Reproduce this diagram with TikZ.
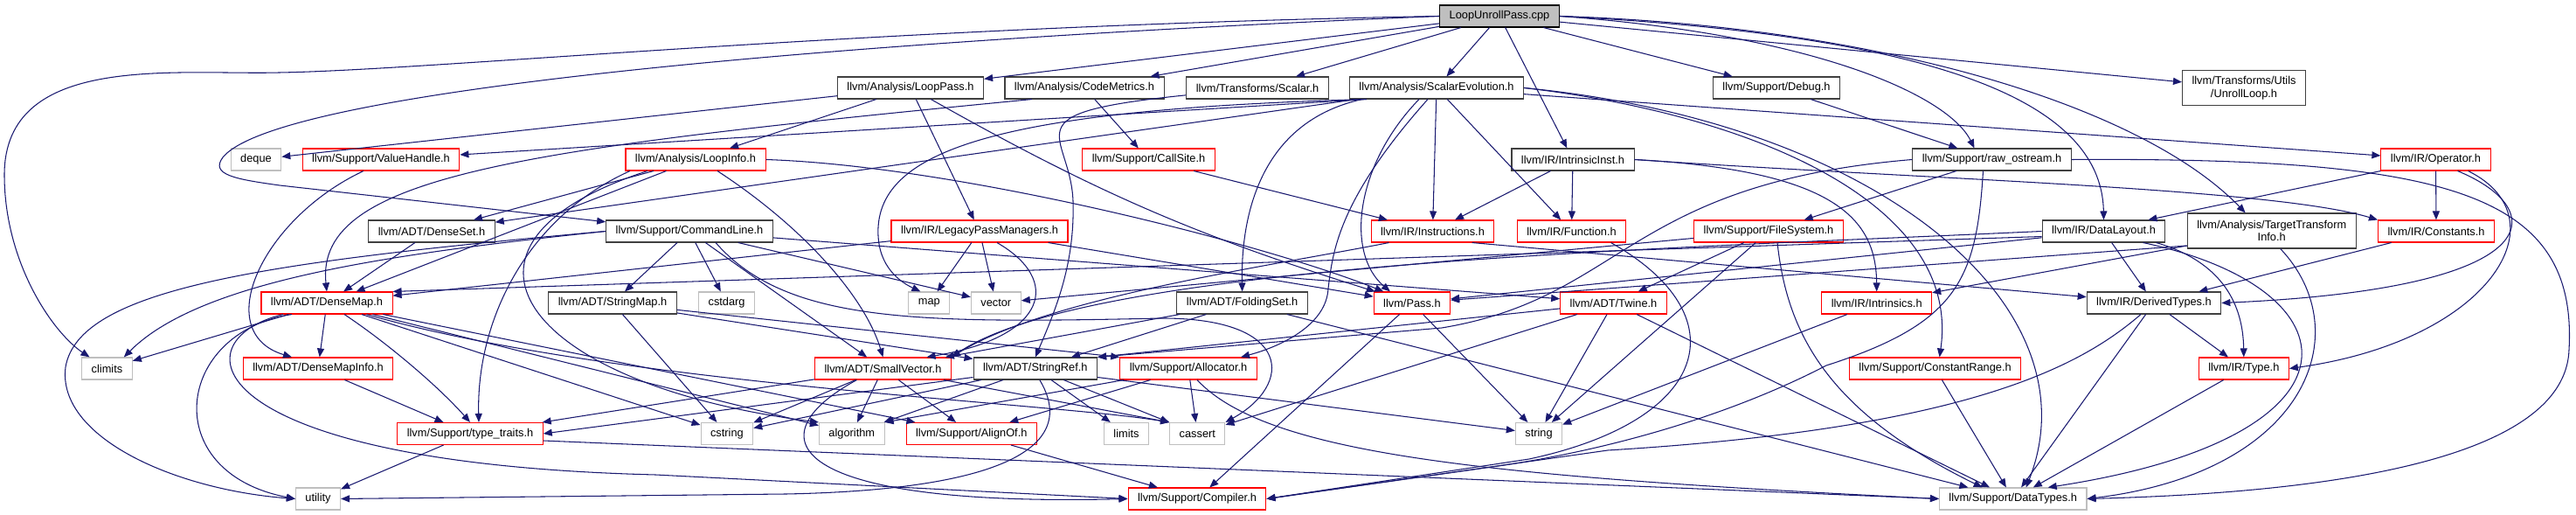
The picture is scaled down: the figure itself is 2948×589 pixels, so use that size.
\documentclass[tikz,border=0pt]{standalone}
\usepackage{fontspec}
\setmainfont{Liberation Sans}
\usetikzlibrary{arrows.meta}
\definecolor{dxedge}{HTML}{191970}
\definecolor{dxdoc}{HTML}{404040}
\definecolor{dxred}{HTML}{FF0000}
\definecolor{dxsys}{HTML}{BFBFBF}
\definecolor{dxroot}{HTML}{BFBFBF}

\begin{document}
\begin{tikzpicture}[
  x=0.01cm, y=0.01cm,
  font=\fontsize{3.64pt}{4.1pt}\selectfont,
  hdr/.style={rectangle, draw, line width=0.3pt, inner xsep=0.11cm,
              inner ysep=0pt, minimum height=0.25cm},
  doc/.style={hdr, draw=dxdoc},
  trunc/.style={hdr, draw=dxred},
  sys/.style={hdr, draw=dxsys},
  rootbox/.style={hdr, draw=black, fill=dxroot},
  twoline/.style={align=center, minimum height=0.4cm},
  ar/.style={-{Triangle[length=0.1cm, width=0.08cm]}, line width=0.3pt, draw=dxedge}]

\path[use as bounding box, fill=white] (0,0) rectangle (2948,-589);

% ---- rank 1 ------------------------------------------------------------
\node[rootbox] (root) at (1716,-18.5) {LoopUnrollPass.cpp};

% ---- rank 2 ------------------------------------------------------------
\node[doc] (looppass) at (1042,-100.5) {llvm/Analysis/LoopPass.h};
\node[doc] (codemetrics) at (1241,-100.5) {llvm/Analysis/CodeMetrics.h};
\node[doc] (scalar) at (1439,-100.5) {llvm/Transforms/Scalar.h};
\node[doc] (scev) at (1644,-100.5) {llvm/Analysis/ScalarEvolution.h};
\node[doc] (debug) at (2033,-100.5) {llvm/Support/Debug.h};
\node[doc, twoline] (unroll) at (2568,-100.7) {llvm/Transforms/Utils\\/UnrollLoop.h};

% ---- rank 3 ------------------------------------------------------------
\node[sys] (deque) at (293,-182.5) {deque};
\node[trunc] (valuehandle) at (436,-182.5) {llvm/Support/ValueHandle.h};
\node[trunc] (loopinfo) at (796,-182.5) {llvm/Analysis/LoopInfo.h};
\node[trunc] (callsite) at (1314.5,-182.5) {llvm/Support/CallSite.h};
\node[doc] (intrinsicinst) at (1800,-182.5) {llvm/IR/IntrinsicInst.h};
\node[doc] (rawos) at (2279.5,-182.5) {llvm/Support/raw\_ostream.h};
\node[trunc] (operator) at (2787.5,-182.5) {llvm/IR/Operator.h};

% ---- rank 4 ------------------------------------------------------------
\node[doc] (denseset) at (494,-264.5) {llvm/ADT/DenseSet.h};
\node[doc] (cmdline) at (789,-264.5) {llvm/Support/CommandLine.h};
\node[trunc] (legacypm) at (1121,-264.5) {llvm/IR/LegacyPassManagers.h};
\node[trunc] (instructions) at (1639.5,-264.5) {llvm/IR/Instructions.h};
\node[trunc] (function) at (1798.5,-264.5) {llvm/IR/Function.h};
\node[trunc] (filesystem) at (2024,-264.5) {llvm/Support/FileSystem.h};
\node[doc] (datalayout) at (2407.5,-264.5) {llvm/IR/DataLayout.h};
\node[doc, twoline] (tti) at (2599.7,-264) {llvm/Analysis/TargetTransform\\Info.h};
\node[trunc] (constants) at (2788,-264.5) {llvm/IR/Constants.h};

% ---- rank 5 ------------------------------------------------------------
\node[trunc] (densemap) at (374,-346.5) {llvm/ADT/DenseMap.h};
\node[doc] (stringmap) at (701,-346.5) {llvm/ADT/StringMap.h};
\node[sys] (cstdarg) at (831.6,-346.5) {cstdarg};
\node[sys] (map) at (1063.4,-346.5) {map};
\node[sys] (vector) at (1139.8,-346.5) {vector};
\node[doc] (foldingset) at (1421.6,-346.5) {llvm/ADT/FoldingSet.h};
\node[trunc] (pass) at (1615.9,-346.5) {llvm/Pass.h};
\node[trunc] (twine) at (1846.5,-346.5) {llvm/ADT/Twine.h};
\node[trunc] (intrinsics) at (2147.7,-346.5) {llvm/IR/Intrinsics.h};
\node[doc] (derivedtypes) at (2465,-346.5) {llvm/IR/DerivedTypes.h};

% ---- rank 6 ------------------------------------------------------------
\node[sys] (climits) at (122.5,-421.5) {climits};
\node[trunc] (densemapinfo) at (364,-421.5) {llvm/ADT/DenseMapInfo.h};
\node[trunc] (smallvector) at (1010.5,-421.5) {llvm/ADT/SmallVector.h};
\node[doc] (stringref) at (1184.8,-421.5) {llvm/ADT/StringRef.h};
\node[trunc] (allocator) at (1360,-421.5) {llvm/Support/Allocator.h};
\node[trunc] (constrange) at (2214.6,-421.5) {llvm/Support/ConstantRange.h};
\node[trunc] (type) at (2567.8,-421.5) {llvm/IR/Type.h};

% ---- rank 7 ------------------------------------------------------------
\node[trunc] (typetraits) at (538,-496) {llvm/Support/type\_traits.h};
\node[sys] (cstring) at (831.9,-496) {cstring};
\node[sys] (algorithm) at (974.8,-496) {algorithm};
\node[trunc] (alignof) at (1111.8,-496) {llvm/Support/AlignOf.h};
\node[sys] (limits) at (1289,-496) {limits};
\node[sys] (cassert) at (1370.3,-496) {cassert};
\node[sys] (string) at (1761,-496) {string};

% ---- rank 8 ------------------------------------------------------------
\node[sys] (utility) at (364,-570.5) {utility};
\node[trunc] (compiler) at (1370,-570.5) {llvm/Support/Compiler.h};
\node[sys] (datatypes) at (2303.7,-570.5) {llvm/Support/DataTypes.h};

% ---- straight includes -------------------------------------------------
\foreach \a/\b in {root/looppass, root/codemetrics, root/scalar, root/scev,
    root/intrinsicinst, root/debug, root/unroll,
    looppass/deque, looppass/loopinfo, looppass/legacypm,
    codemetrics/callsite, scev/denseset, scev/instructions, scev/function,
    scev/operator, intrinsicinst/instructions, intrinsicinst/function,
    debug/rawos, rawos/filesystem, operator/constants,
    datalayout/pass, datalayout/derivedtypes, constants/derivedtypes,
    loopinfo/denseset, loopinfo/densemap,
    cmdline/stringmap, cmdline/cstdarg, cmdline/smallvector, cmdline/vector,
    cmdline/twine, legacypm/densemap, legacypm/map, legacypm/vector,
    legacypm/pass, filesystem/twine, filesystem/string, filesystem/vector,
    callsite/instructions, denseset/densemap,
    densemap/climits, densemap/densemapinfo, densemap/cstring,
    densemap/algorithm, densemap/alignof,
    densemapinfo/typetraits, typetraits/utility,
    smallvector/cstring, smallvector/algorithm, smallvector/alignof,
    smallvector/cassert.north west, smallvector/typetraits,
    stringref/cstring, stringref/algorithm, stringref/limits, stringref/cassert,
    allocator/alignof, allocator/algorithm.north east, allocator/cassert,
    alignof/compiler, foldingset/smallvector, foldingset/stringref,
    foldingset/datatypes, pass/string, pass/compiler,
    twine/string, twine/cassert, twine/datatypes, twine/stringref.north east,
    intrinsics/string, constrange/datatypes,
    derivedtypes/type, derivedtypes/datatypes, type/datatypes,
    stringmap/stringref, stringmap/allocator.north west, stringmap/cstring}
  \draw[ar] (\a) -- (\b);

% ---- routed includes ---------------------------------------------------
\draw[ar] (root.west) .. controls (1000,-30) and (500,-80) .. (320,-83)
  .. controls (200,-86) and (5,-60) .. (5,-200)
  .. controls (5,-300) and (60,-380) .. ([xshift=-0.2cm]climits.north);
\draw[ar] (root.west) .. controls (1000,-45) and (320,-100) .. (255,-180)
  .. controls (240,-200) and (270,-205) .. (320,-212) -- (cmdline);
\draw[ar] (root.east) .. controls (2080,-40) and (2230,-110) .. ([xshift=-0.2cm]rawos.north);
\draw[ar] (root.east) .. controls (2200,-40) and (2405,-110) .. (datalayout.north);
\draw[ar] (root.east) .. controls (2150,-30) and (2450,-120) .. ([xshift=-0.3cm]tti.north);

\draw[ar] (looppass) to[bend right=6] (pass);
\draw[ar] ([xshift=-0.6cm]codemetrics.south) .. controls (600,-170) and (360,-200) .. (densemap.north);
\draw[ar] (scalar) .. controls (1150,-130) and (1225,-150) .. (1228,-230)
  .. controls (1230,-300) and (1210,-350) .. (stringref.north);

\draw[ar] ([xshift=0.2cm]scev.south west) -- (valuehandle);
\draw[ar] ([xshift=0.15cm]scev.south west) .. controls (1440,-140) and (1420,-250) .. (foldingset.north);
\draw[ar] ([xshift=0.2cm]scev.south west) .. controls (1150,-125) and (1010,-170) .. (1005,-260)
  .. controls (1003,-300) and (1025,-320) .. ([xshift=-0.1cm]map.north);
\draw[ar] ([xshift=-0.2cm]scev.south) .. controls (1550,-190) and (1540,-290) .. ([xshift=-0.25cm]pass.north);
\draw[ar] ([xshift=-0.1cm]scev.south) .. controls (1530,-230) and (1525,-290) .. (1520,-330)
  .. controls (1518,-370) and (1470,-395) .. ([xshift=0.6cm]allocator.north);
\draw[ar] (scev.east) .. controls (2000,-130) and (2245,-230) .. ([xshift=0.05cm]constrange.north);
\draw[ar] (scev.east) .. controls (2150,-140) and (2400,-350) .. ([xshift=0.15cm]datatypes.north);

\draw[ar] (intrinsicinst.east) .. controls (2200,-205) and (2600,-215) .. (constants.north west);
\draw[ar] (intrinsicinst.east) .. controls (2100,-195) and (2147,-250) .. (intrinsics.north);

\draw[ar] (rawos.west) .. controls (1860,-210) and (1860,-340) .. (1650,-375) -- (stringref.north east);
\draw[ar] ([xshift=-0.1cm]rawos.south) .. controls (2262,-320) and (2240,-370) .. (2090,-418)
  .. controls (1990,-470) and (1850,-515) .. (1700,-535) -- (compiler.east);
\draw[ar] (rawos.east) .. controls (2800,-180) and (2950,-220) .. (2940,-400)
  .. controls (2935,-540) and (2600,-565) .. (datatypes.east);

\draw[ar] (operator.south west) -- ([xshift=-0.2cm]datalayout.north east);
\draw[ar] ([xshift=0.25cm]operator.south) .. controls (2920,-240) and (2920,-330) .. (derivedtypes.east);
\draw[ar] ([xshift=0.37cm]operator.south) .. controls (2935,-250) and (2850,-390) .. (type.east);

\draw[ar] ([yshift=-0.06cm]datalayout.west) -- (densemap.north east);
\draw[ar] (datalayout.west) .. controls (1900,-285) and (1250,-300) .. (smallvector.north east);
\draw[ar] ([xshift=0.6cm]datalayout.south) .. controls (2545,-300) and (2567,-350) .. (type.north);
\draw[ar] ([xshift=0.45cm]datalayout.south) .. controls (2700,-330) and (2720,-500) .. ([xshift=0.4cm]datatypes.north);

\draw[ar] ([yshift=-0.17cm]tti.west) -- (pass);
\draw[ar] ([yshift=-0.17cm]tti.west) -- (intrinsics);
\draw[ar] ([xshift=0.1cm]tti.south) .. controls (2700,-380) and (2640,-540) .. (datatypes.east);

\draw[ar] ([xshift=-0.2cm]valuehandle.south) .. controls (300,-250) and (240,-380) .. ([xshift=-0.3cm]densemapinfo.north);
\draw[ar] ([xshift=0.25cm]loopinfo.south) .. controls (920,-260) and (990,-340) .. (smallvector.north);
\draw[ar] ([xshift=-0.75cm]loopinfo.south) .. controls (600,-250) and (545,-370) .. ([xshift=0.1cm]typetraits.north);
\draw[ar] ([xshift=-0.55cm]loopinfo.south) .. controls (480,-280) and (600,-440) .. (algorithm.north west);
\draw[ar] (loopinfo.east) .. controls (1100,-190) and (1450,-280) .. (pass);

\draw[ar] (cmdline.west) .. controls (450,-290) and (230,-320) .. ([xshift=-0.1cm]climits.north east);
\draw[ar] (cmdline.west) .. controls (300,-300) and (90,-330) .. (75,-420)
  .. controls (65,-500) and (200,-560) .. (utility.west);
\draw[ar] ([xshift=0.3cm]cmdline.south) .. controls (900,-370) and (1050,-370) .. (1330,-364)
  .. controls (1480,-364) and (1480,-440) .. (cassert.north east);

\draw[ar] ([xshift=0.2cm]legacypm.south) .. controls (1215,-320) and (1200,-385) .. ([xshift=0.5cm]smallvector.north);
\draw[ar] ([xshift=-0.5cm]instructions.south) .. controls (1450,-305) and (1200,-340) .. (smallvector.north east);
\draw[ar] ([xshift=0.45cm]instructions.south) -- (derivedtypes);
\draw[ar] ([xshift=0.45cm]function.south) .. controls (1990,-360) and (1960,-480) .. (1750,-525) -- (compiler.east);
\draw[ar] ([xshift=0.1cm]filesystem.south) .. controls (2045,-380) and (2090,-470) .. ([xshift=-0.35cm]datatypes.north);

\draw[ar] ([xshift=0.2cm]densemap.south) .. controls (440,-390) and (500,-440) .. (typetraits.north);
\draw[ar] ([xshift=-0.4cm]densemap.south) .. controls (200,-380) and (180,-540) .. (utility.west);
\draw[ar] (densemap) .. controls (700,-440) and (1200,-460) .. (cassert.north west);
\draw[ar] ([xshift=-0.5cm]densemap.south) .. controls (200,-390) and (230,-530) .. (750,-543) -- (compiler.west);

\draw[ar] ([yshift=-0.08cm]typetraits.east) -- (datatypes.west);
\draw[ar] ([xshift=-0.3cm]smallvector.south) .. controls (860,-500) and (900,-580) .. (compiler.west);
\draw[ar] ([yshift=-0.1cm]stringref.east) -- (string);
\draw[ar] ([xshift=0.05cm]stringref.south) .. controls (1235,-510) and (1150,-560) .. (900,-565) -- (utility.east);
\draw[ar] ([yshift=-0.1cm]stringref.west) -- (typetraits.east);
\draw[ar] ([xshift=0.1cm]allocator.south) .. controls (1450,-520) and (1700,-545) .. (datatypes.west);
\draw[ar] ([xshift=-0.15cm]derivedtypes.south) .. controls (2380,-420) and (2250,-490) .. (1840,-515) -- (compiler.east);
\end{tikzpicture}
\end{document}
